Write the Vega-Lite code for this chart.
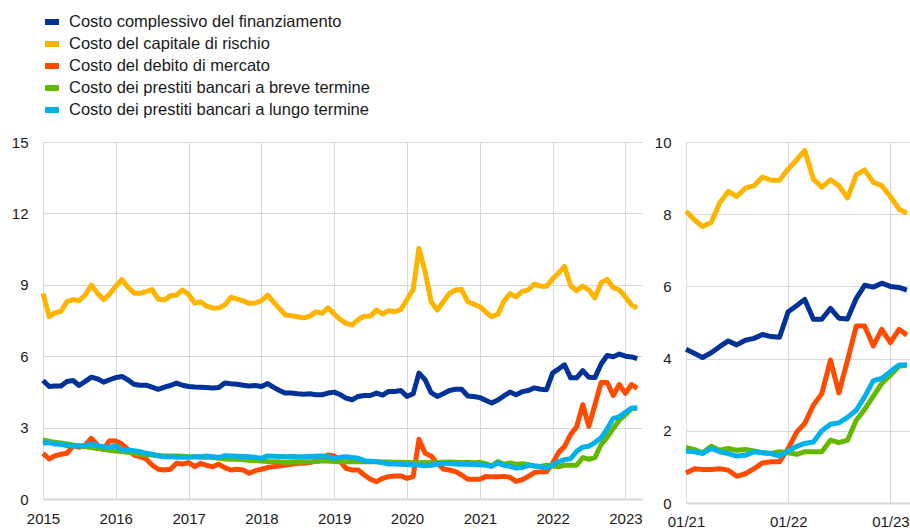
{
  "$schema": "https://vega.github.io/schema/vega-lite/v6.json",
  "padding": {"left": 11, "top": 12, "right": 0, "bottom": 0},
  "background": "white",
  "bounds": "flush",
  "spacing": 44,
  "config": {
    "view": {"stroke": null},
    "font": "Liberation Sans",
    "axis": {
      "labelFont": "Liberation Sans",
      "labelFontSize": 15,
      "labelColor": "#1a1a1a",
      "ticks": false,
      "gridColor": "#d9d9d9",
      "gridWidth": 1,
      "title": null
    },
    "axisX": {"domain": true, "domainColor": "#d9d9d9", "domainWidth": 2, "labelPadding": 12},
    "axisY": {"domain": false, "labelPadding": 15}
  },
  "data": {
    "format": {"parse": {"d": "date:'%Y-%m'"}},
    "values": [
      {"d":"2015-01","a":4.98,"b":8.64,"c":1.92,"e":2.48,"f":2.34},
      {"d":"2015-02","a":4.73,"b":7.66,"c":1.68,"e":2.43,"f":2.37},
      {"d":"2015-03","a":4.75,"b":7.82,"c":1.81,"e":2.38,"f":2.31},
      {"d":"2015-04","a":4.75,"b":7.89,"c":1.88,"e":2.35,"f":2.30},
      {"d":"2015-05","a":4.94,"b":8.29,"c":1.92,"e":2.31,"f":2.25},
      {"d":"2015-06","a":4.98,"b":8.38,"c":2.23,"e":2.27,"f":2.23},
      {"d":"2015-07","a":4.77,"b":8.33,"c":2.17,"e":2.23,"f":2.23},
      {"d":"2015-08","a":4.94,"b":8.57,"c":2.27,"e":2.20,"f":2.25},
      {"d":"2015-09","a":5.12,"b":8.99,"c":2.55,"e":2.16,"f":2.31},
      {"d":"2015-10","a":5.05,"b":8.64,"c":2.27,"e":2.12,"f":2.24},
      {"d":"2015-11","a":4.91,"b":8.38,"c":2.09,"e":2.09,"f":2.20},
      {"d":"2015-12","a":5.01,"b":8.61,"c":2.45,"e":2.05,"f":2.17},
      {"d":"2016-01","a":5.10,"b":8.94,"c":2.44,"e":2.02,"f":2.24},
      {"d":"2016-02","a":5.15,"b":9.22,"c":2.31,"e":1.99,"f":2.05},
      {"d":"2016-03","a":5.01,"b":8.92,"c":2.09,"e":1.96,"f":2.06},
      {"d":"2016-04","a":4.82,"b":8.66,"c":1.85,"e":1.92,"f":2.03},
      {"d":"2016-05","a":4.78,"b":8.64,"c":1.78,"e":1.88,"f":1.99},
      {"d":"2016-06","a":4.78,"b":8.71,"c":1.68,"e":1.86,"f":1.92},
      {"d":"2016-07","a":4.70,"b":8.80,"c":1.43,"e":1.85,"f":1.88},
      {"d":"2016-08","a":4.61,"b":8.40,"c":1.25,"e":1.83,"f":1.81},
      {"d":"2016-09","a":4.70,"b":8.36,"c":1.22,"e":1.81,"f":1.78},
      {"d":"2016-10","a":4.77,"b":8.54,"c":1.25,"e":1.81,"f":1.78},
      {"d":"2016-11","a":4.87,"b":8.57,"c":1.50,"e":1.81,"f":1.75},
      {"d":"2016-12","a":4.78,"b":8.78,"c":1.47,"e":1.80,"f":1.75},
      {"d":"2017-01","a":4.73,"b":8.59,"c":1.53,"e":1.78,"f":1.75},
      {"d":"2017-02","a":4.71,"b":8.22,"c":1.36,"e":1.77,"f":1.78},
      {"d":"2017-03","a":4.70,"b":8.29,"c":1.50,"e":1.75,"f":1.78},
      {"d":"2017-04","a":4.68,"b":8.10,"c":1.41,"e":1.75,"f":1.81},
      {"d":"2017-05","a":4.66,"b":8.03,"c":1.36,"e":1.74,"f":1.78},
      {"d":"2017-06","a":4.68,"b":8.03,"c":1.46,"e":1.71,"f":1.75},
      {"d":"2017-07","a":4.87,"b":8.15,"c":1.32,"e":1.68,"f":1.82},
      {"d":"2017-08","a":4.84,"b":8.48,"c":1.22,"e":1.67,"f":1.81},
      {"d":"2017-09","a":4.82,"b":8.40,"c":1.25,"e":1.67,"f":1.80},
      {"d":"2017-10","a":4.78,"b":8.33,"c":1.22,"e":1.65,"f":1.79},
      {"d":"2017-11","a":4.75,"b":8.22,"c":1.08,"e":1.63,"f":1.78},
      {"d":"2017-12","a":4.77,"b":8.24,"c":1.19,"e":1.62,"f":1.75},
      {"d":"2018-01","a":4.73,"b":8.33,"c":1.25,"e":1.60,"f":1.71},
      {"d":"2018-02","a":4.85,"b":8.57,"c":1.32,"e":1.58,"f":1.81},
      {"d":"2018-03","a":4.70,"b":8.29,"c":1.36,"e":1.57,"f":1.80},
      {"d":"2018-04","a":4.56,"b":8.01,"c":1.39,"e":1.56,"f":1.79},
      {"d":"2018-05","a":4.45,"b":7.73,"c":1.43,"e":1.54,"f":1.78},
      {"d":"2018-06","a":4.45,"b":7.70,"c":1.46,"e":1.55,"f":1.79},
      {"d":"2018-07","a":4.42,"b":7.66,"c":1.50,"e":1.56,"f":1.78},
      {"d":"2018-08","a":4.40,"b":7.61,"c":1.50,"e":1.57,"f":1.78},
      {"d":"2018-09","a":4.42,"b":7.68,"c":1.53,"e":1.57,"f":1.79},
      {"d":"2018-10","a":4.38,"b":7.87,"c":1.60,"e":1.58,"f":1.80},
      {"d":"2018-11","a":4.38,"b":7.80,"c":1.71,"e":1.60,"f":1.81},
      {"d":"2018-12","a":4.45,"b":8.03,"c":1.85,"e":1.60,"f":1.78},
      {"d":"2019-01","a":4.49,"b":7.77,"c":1.81,"e":1.58,"f":1.71},
      {"d":"2019-02","a":4.38,"b":7.54,"c":1.57,"e":1.57,"f":1.75},
      {"d":"2019-03","a":4.24,"b":7.38,"c":1.29,"e":1.57,"f":1.78},
      {"d":"2019-04","a":4.17,"b":7.31,"c":1.22,"e":1.58,"f":1.74},
      {"d":"2019-05","a":4.31,"b":7.54,"c":1.22,"e":1.57,"f":1.71},
      {"d":"2019-06","a":4.35,"b":7.68,"c":1.01,"e":1.56,"f":1.61},
      {"d":"2019-07","a":4.35,"b":7.68,"c":0.83,"e":1.56,"f":1.59},
      {"d":"2019-08","a":4.45,"b":7.94,"c":0.73,"e":1.57,"f":1.57},
      {"d":"2019-09","a":4.36,"b":7.77,"c":0.87,"e":1.55,"f":1.52},
      {"d":"2019-10","a":4.52,"b":7.91,"c":0.94,"e":1.55,"f":1.47},
      {"d":"2019-11","a":4.52,"b":7.87,"c":0.97,"e":1.54,"f":1.47},
      {"d":"2019-12","a":4.56,"b":7.96,"c":0.97,"e":1.54,"f":1.46},
      {"d":"2020-01","a":4.31,"b":8.38,"c":0.87,"e":1.53,"f":1.45},
      {"d":"2020-02","a":4.42,"b":8.80,"c":0.94,"e":1.53,"f":1.43},
      {"d":"2020-03","a":5.29,"b":10.53,"c":2.51,"e":1.52,"f":1.43},
      {"d":"2020-04","a":5.01,"b":9.55,"c":1.92,"e":1.53,"f":1.40},
      {"d":"2020-05","a":4.47,"b":8.29,"c":1.81,"e":1.52,"f":1.42},
      {"d":"2020-06","a":4.31,"b":7.94,"c":1.50,"e":1.53,"f":1.46},
      {"d":"2020-07","a":4.42,"b":8.29,"c":1.26,"e":1.54,"f":1.50},
      {"d":"2020-08","a":4.56,"b":8.64,"c":1.22,"e":1.55,"f":1.49},
      {"d":"2020-09","a":4.61,"b":8.78,"c":1.15,"e":1.54,"f":1.47},
      {"d":"2020-10","a":4.61,"b":8.80,"c":1.01,"e":1.53,"f":1.46},
      {"d":"2020-11","a":4.33,"b":8.29,"c":0.83,"e":1.54,"f":1.46},
      {"d":"2020-12","a":4.31,"b":8.19,"c":0.83,"e":1.52,"f":1.45},
      {"d":"2021-01","a":4.26,"b":8.08,"c":0.83,"e":1.54,"f":1.44},
      {"d":"2021-02","a":4.14,"b":7.84,"c":0.95,"e":1.48,"f":1.42},
      {"d":"2021-03","a":4.03,"b":7.66,"c":0.93,"e":1.39,"f":1.37},
      {"d":"2021-04","a":4.16,"b":7.77,"c":0.93,"e":1.57,"f":1.51},
      {"d":"2021-05","a":4.33,"b":8.31,"c":0.95,"e":1.46,"f":1.42},
      {"d":"2021-06","a":4.49,"b":8.63,"c":0.91,"e":1.51,"f":1.37},
      {"d":"2021-07","a":4.38,"b":8.49,"c":0.74,"e":1.46,"f":1.30},
      {"d":"2021-08","a":4.51,"b":8.72,"c":0.81,"e":1.48,"f":1.32},
      {"d":"2021-09","a":4.56,"b":8.79,"c":0.95,"e":1.44,"f":1.42},
      {"d":"2021-10","a":4.67,"b":9.03,"c":1.11,"e":1.39,"f":1.39},
      {"d":"2021-11","a":4.61,"b":8.94,"c":1.14,"e":1.37,"f":1.37},
      {"d":"2021-12","a":4.59,"b":8.94,"c":1.14,"e":1.42,"f":1.30},
      {"d":"2022-01","a":5.30,"b":9.25,"c":1.51,"e":1.39,"f":1.44},
      {"d":"2022-02","a":5.47,"b":9.51,"c":1.97,"e":1.35,"f":1.57},
      {"d":"2022-03","a":5.64,"b":9.77,"c":2.20,"e":1.42,"f":1.65},
      {"d":"2022-04","a":5.09,"b":8.97,"c":2.71,"e":1.42,"f":1.69},
      {"d":"2022-05","a":5.09,"b":8.75,"c":3.03,"e":1.42,"f":2.00},
      {"d":"2022-06","a":5.39,"b":8.95,"c":3.96,"e":1.74,"f":2.18},
      {"d":"2022-07","a":5.12,"b":8.79,"c":3.05,"e":1.67,"f":2.22},
      {"d":"2022-08","a":5.10,"b":8.45,"c":3.96,"e":1.74,"f":2.37},
      {"d":"2022-09","a":5.67,"b":9.09,"c":4.90,"e":2.29,"f":2.57},
      {"d":"2022-10","a":6.03,"b":9.23,"c":4.90,"e":2.59,"f":2.94},
      {"d":"2022-11","a":5.98,"b":8.88,"c":4.35,"e":2.96,"f":3.39},
      {"d":"2022-12","a":6.09,"b":8.79,"c":4.81,"e":3.31,"f":3.45},
      {"d":"2023-01","a":6.00,"b":8.49,"c":4.44,"e":3.54,"f":3.64},
      {"d":"2023-02","a":5.97,"b":8.14,"c":4.81,"e":3.79,"f":3.82},
      {"d":"2023-03","a":5.90,"b":8.03,"c":4.65,"e":3.82,"f":3.82}
    ]
  },
  "hconcat": [
    {
      "width": 599,
      "height": 357,
      "transform": [{"fold": ["a", "b", "c", "e", "f"], "as": ["k", "v"]}],
      "mark": {"type": "line", "strokeWidth": 5, "strokeJoin": "round"},
      "encoding": {
        "x": {
          "field": "d", "type": "temporal",
          "scale": {"domain": [{"year": 2015, "month": 1, "date": 1}, {"year": 2023, "month": 3, "date": 25}]},
          "axis": {
            "values": [{"year": 2015, "month": 1, "date": 1}, {"year": 2016, "month": 1, "date": 1}, {"year": 2017, "month": 1, "date": 1}, {"year": 2018, "month": 1, "date": 1}, {"year": 2019, "month": 1, "date": 1}, {"year": 2020, "month": 1, "date": 1}, {"year": 2021, "month": 1, "date": 1}, {"year": 2022, "month": 1, "date": 1}, {"year": 2023, "month": 1, "date": 1}],
            "format": "%Y", "labelFlush": false, "labelOverlap": false
          }
        },
        "y": {
          "field": "v", "type": "quantitative",
          "scale": {"domain": [0, 15]},
          "axis": {"values": [0, 3, 6, 9, 12, 15]}
        },
        "color": {
          "field": "k", "type": "nominal",
          "scale": {"domain": ["a", "b", "c", "e", "f"], "range": ["#003299", "#ffb400", "#ff4b00", "#65b800", "#00b1ea"]},
          "legend": {
            "orient": "none", "legendX": -1, "legendY": -130, "direction": "vertical", "title": null,
            "symbolType": "stroke", "symbolStrokeWidth": 6, "symbolSize": 196,
            "labelFont": "Liberation Sans", "labelFontSize": 16.5, "labelColor": "#1a1a1a",
            "rowPadding": -2, "labelOffset": 7, "padding": 0, "labelLimit": 500,
            "labelExpr": "datum.value == 'a' ? 'Costo complessivo del finanziamento' : datum.value == 'b' ? 'Costo del capitale di rischio' : datum.value == 'c' ? 'Costo del debito di mercato' : datum.value == 'e' ? 'Costo dei prestiti bancari a breve termine' : 'Costo dei prestiti bancari a lungo termine'"
          }
        }
      }
    },
    {
      "width": 224,
      "height": 361,
      "transform": [{"filter": "year(datum.d) >= 2021"}, {"fold": ["a", "b", "c", "e", "f"], "as": ["k", "v"]}],
      "mark": {"type": "line", "strokeWidth": 5, "strokeJoin": "round"},
      "encoding": {
        "x": {
          "field": "d", "type": "temporal",
          "scale": {"domain": [{"year": 2021, "month": 1, "date": 1}, {"year": 2023, "month": 3, "date": 12}]},
          "axis": {
            "values": [{"year": 2021, "month": 1, "date": 1}, {"year": 2022, "month": 1, "date": 1}, {"year": 2023, "month": 1, "date": 1}],
            "format": "%m/%y", "labelFlush": false, "labelOverlap": false, "labelPadding": 11
          }
        },
        "y": {
          "field": "v", "type": "quantitative",
          "scale": {"domain": [0, 10]},
          "axis": {"values": [0, 2, 4, 6, 8, 10]}
        },
        "color": {"field": "k", "type": "nominal"}
      }
    }
  ]
}
